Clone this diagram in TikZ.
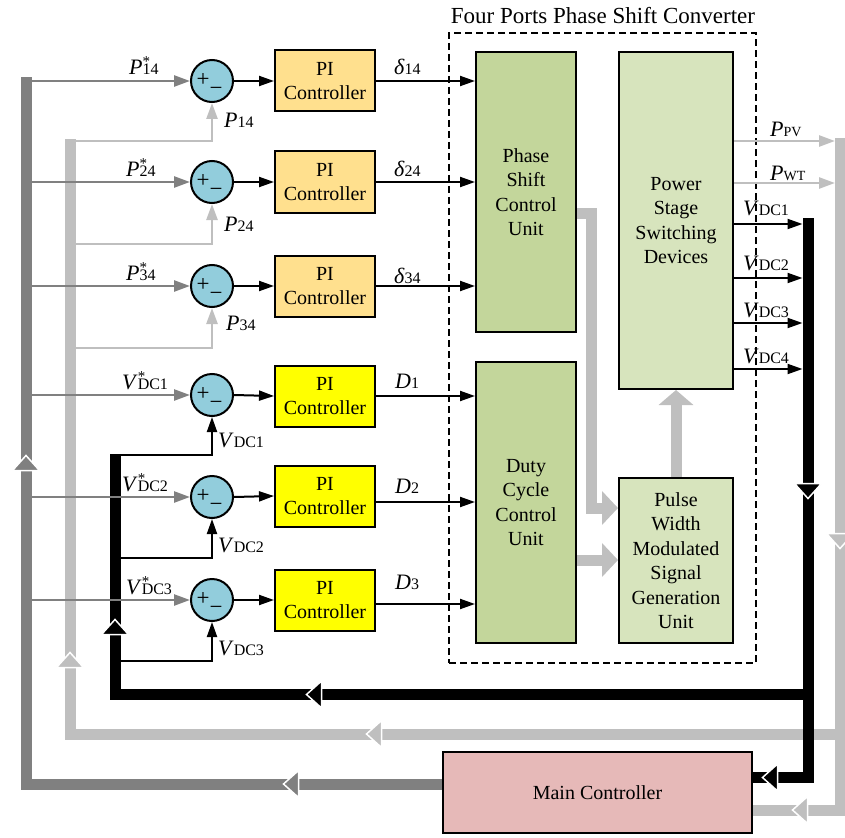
\documentclass[tikz,border=0pt]{standalone}
\usepackage{fontspec}
\setmainfont{Liberation Serif}
\usetikzlibrary{arrows.meta,calc}
\definecolor{dgray}{HTML}{808080}
\definecolor{lgray}{HTML}{BFBFBF}
\definecolor{pifill}{HTML}{FFE08E}
\definecolor{piyel}{HTML}{FFFF00}
\definecolor{gdark}{HTML}{C3D69B}
\definecolor{glight}{HTML}{D7E4BD}
\definecolor{mcfill}{HTML}{E6B9B8}
\definecolor{sumfill}{HTML}{92CDDC}
\newcommand{\sbs}[1]{{\fontsize{16}{16}\selectfont #1}}
\newcommand{\sbsm}[1]{{\fontsize{14}{14}\selectfont #1}}
\newcommand{\strs}{\rlap{\raisebox{8pt}{\fontsize{15}{15}\selectfont *}}}
\newcommand{\chev}[3]{\fill[#3,draw=white,line width=1.5pt,shift={#1},rotate=#2] (-7.5,-13.5) -- (7.5,0) -- (-7.5,13.5) -- cycle;}
\begin{document}
\begin{tikzpicture}[x=1pt,y=-1pt,
  txt/.style={font=\fontsize{20}{24.5}\selectfont, align=center},
  box/.style={draw=black, line width=2pt, inner sep=0pt, txt},
  pibox/.style={box, fill=pifill, minimum width=100pt, minimum height=61pt},
  piybox/.style={pibox, fill=piyel},
  sumc/.style={circle, draw=black, line width=2pt, fill=sumfill, minimum size=42pt, inner sep=0pt},
  pm/.style={inner sep=0pt, font=\fontsize{23}{23}\selectfont},
  lbl/.style={inner sep=0pt, anchor=base west, font=\fontsize{22}{22}\selectfont},
  blk/.style={draw=black, line width=2pt, -{Triangle[length=15pt,width=10pt]}},
  dga/.style={draw=dgray, line width=2.5pt, -{Triangle[length=16pt,width=11pt]}},
  lga/.style={draw=lgray, line width=2.5pt, -{Triangle[length=16pt,width=11pt]}},
  dgbus/.style={draw=dgray, line width=11pt},
  lgbus/.style={draw=lgray, line width=11pt},
  bkbus/.style={draw=black, line width=11pt},
  lgfat/.style={draw=lgray, line width=11pt, -{Triangle[length=16pt,width=33pt]}},
  convbox/.style={draw=black, line width=1.2pt, dash pattern=on 7pt off 4pt, minimum width=307pt, minimum height=630pt, inner sep=0pt},
]
\useasboundingbox (0,0) rectangle (845,837);

% converter frame and title
\node[convbox] (conv) at (602.5,348) {};
\node[anchor=base, inner sep=0pt, font=\fontsize{23}{23}\selectfont] (title) at (603,24) {Four Ports Phase Shift Converter};

% summing junctions
\node[sumc] (s1) at (212,81) {};
\node[sumc] (s2) at (212,182) {};
\node[sumc] (s3) at (212,286) {};
\node[sumc] (s4) at (212,395) {};
\node[sumc] (s5) at (212,497) {};
\node[sumc] (s6) at (212,600) {};
\foreach \i in {1,...,6}{
  \node[pm] (pl\i) at ($(s\i)+(-9,-1)$) {+};
  \node[pm] (mi\i) at ($(s\i)+(4,10)$) {−};
}

% PI controllers
\node[pibox] (pi1) at (325,81) {PI\\Controller};
\node[pibox] (pi2) at (325,182) {PI\\Controller};
\node[pibox] (pi3) at (325,286) {PI\\Controller};
\node[piybox] (pi4) at (325,396) {PI\\Controller};
\node[piybox] (pi5) at (325,496) {PI\\Controller};
\node[piybox] (pi6) at (325,600) {PI\\Controller};

% main blocks
\node[box, fill=gdark, minimum width=100pt, minimum height=280pt] (psu) at (526,192) {Phase\\Shift\\Control\\Unit};
\node[box, fill=gdark, minimum width=100pt, minimum height=281pt] (dcu) at (526,502.5) {Duty\\Cycle\\Control\\Unit};
\node[box, fill=glight, minimum width=114pt, minimum height=337pt] (psd) at (676,220.5) {Power\\Stage\\Switching\\Devices};
\node[box, fill=glight, minimum width=114pt, minimum height=165pt] (pwm) at (676,560.5) {Pulse\\Width\\Modulated\\Signal\\Generation\\Unit};
\node[box, fill=mcfill, minimum width=309pt, minimum height=81pt] (mc) at (597.5,792.5) {Main Controller};

% buses
\draw[lgbus] (840,138) -- (840,810) -- ([yshift=-17.5pt]mc.east);
\draw[lgbus] (840,734) -- (70,734) -- (70,139.5);
\draw[dgbus] ([yshift=8.5pt]mc.west) -- (26,784) -- (26,77);
\draw[bkbus] (808,218) -- (808,777.5) -- ([yshift=15pt]mc.east);
\draw[bkbus] (808,694.5) -- (115,694.5) -- (115,453.5);

\coordinate (dgl) at (26,77);
\coordinate (lgl1) at (70,141);
\coordinate (lgl2) at (70,244);
\coordinate (lgl3) at (70,348);
\coordinate (bkl1) at (115,455);
\coordinate (bkl2) at (115,558);
\coordinate (bkl3) at (115,661);
\coordinate (lgrt) at (835,138);
\coordinate (bkrt) at (802.5,218);

% reference inputs
\foreach \i in {1,...,6}{
  \draw[dga] (dgl |- s\i) -- (s\i.west);
  \draw[blk] (s\i.east) -- (pi\i.west);
}
% feedback
\draw[lga] (lgl1) -| (s1.south);
\draw[lga] (lgl2) -| (s2.south);
\draw[lga] (lgl3) -| (s3.south);
\draw[blk] (bkl1) -| (s4.south);
\draw[blk] (bkl2) -| (s5.south);
\draw[blk] (bkl3) -| (s6.south);

% controller outputs
\draw[blk] (pi1.east) -- (psu.west |- pi1.east);
\draw[blk] (pi2.east) -- (psu.west |- pi2.east);
\draw[blk] (pi3.east) -- (psu.west |- pi3.east);
\draw[blk] (pi4.east) -- (dcu.west |- pi4.east);
\draw[blk] ([yshift=-6pt]pi5.east) -- (dcu.west |- 0,502);
\draw[blk] ([yshift=-4pt]pi6.east) -- (dcu.west |- 0,604);

% power stage outputs
\draw[lga] (psd.east |- 0,141) -- (lgrt |- 0,141);
\draw[lga] (psd.east |- 0,183) -- (lgrt |- 0,183);
\draw[blk] (psd.east |- 0,224) -- (bkrt |- 0,224);
\draw[blk] (psd.east |- 0,278) -- (bkrt |- 0,278);
\draw[blk] (psd.east |- 0,323) -- (bkrt |- 0,323);
\draw[blk] (psd.east |- 0,369) -- (bkrt |- 0,369);

% internal fat arrows
\draw[lgfat] (psu.east |- 0,213) -- (591,213) -- (591,508) -- (pwm.west |- 0,508);
\draw[lgfat] (dcu.east |- 0,560) -- (pwm.west |- 0,560);
\draw[draw=lgray, line width=11pt, -{Triangle[length=15pt,width=34pt]}] (pwm.north) -- (psd.south);

% chevrons on buses
\chev{(26,463)}{90}{dgray}
\chev{(70,660)}{90}{lgray}
\chev{(115,627)}{90}{black}
\chev{(314,694.5)}{180}{black}
\chev{(374,734)}{180}{lgray}
\chev{(291,784)}{180}{dgray}
\chev{(808,491)}{-90}{black}
\chev{(840,541)}{-90}{lgray}
\chev{(770,777.5)}{180}{black}
\chev{(800,810)}{180}{lgray}

% labels: references
\node[lbl] (r1) at (129,75) {\textit{P}\strs\sbs{14}};
\node[lbl] (r2) at (126,176) {\textit{P}\strs\sbs{24}};
\node[lbl] (r3) at (126,280) {\textit{P}\strs\sbs{34}};
\node[lbl] (r4) at (122,389) {\textit{V}\strs\sbs{DC1}};
\node[lbl] (r5) at (122,491) {\textit{V}\strs\sbs{DC2}};
\node[lbl] (r6) at (126,594) {\textit{V}\strs\sbs{DC3}};
% labels: feedback
\node[lbl] (f1) at (224,128) {\textit{P}\sbs{14}};
\node[lbl] (f2) at (224,231) {\textit{P}\sbs{24}};
\node[lbl] (f3) at (226,330) {\textit{P}\sbs{34}};
\node[lbl] (f4) at (218,447) {\textit{V}\sbs{DC1}};
\node[lbl] (f5) at (218,552) {\textit{V}\sbs{DC2}};
\node[lbl] (f6) at (218,655) {\textit{V}\sbs{DC3}};
% labels: controller outputs
\node[lbl] (d1) at (394,75) {\textit{δ}\sbs{14}};
\node[lbl] (d2) at (394,177) {\textit{δ}\sbs{24}};
\node[lbl] (d3) at (394,283) {\textit{δ}\sbs{34}};
\node[lbl] (dd1) at (395,388) {\textit{D}\sbs{1}};
\node[lbl] (dd2) at (395,493) {\textit{D}\sbs{2}};
\node[lbl] (dd3) at (395,589) {\textit{D}\sbs{3}};
% labels: power stage outputs
\node[lbl] (o1) at (770,137) {\textit{P}\sbsm{PV}};
\node[lbl] (o2) at (770,180) {\textit{P}\sbsm{WT}};
\node[lbl] (o3) at (743,215) {\textit{V}\sbs{DC1}};
\node[lbl] (o4) at (743,270) {\textit{V}\sbs{DC2}};
\node[lbl] (o5) at (743,317) {\textit{V}\sbs{DC3}};
\node[lbl] (o6) at (743,363) {\textit{V}\sbs{DC4}};
\end{tikzpicture}
\end{document}
